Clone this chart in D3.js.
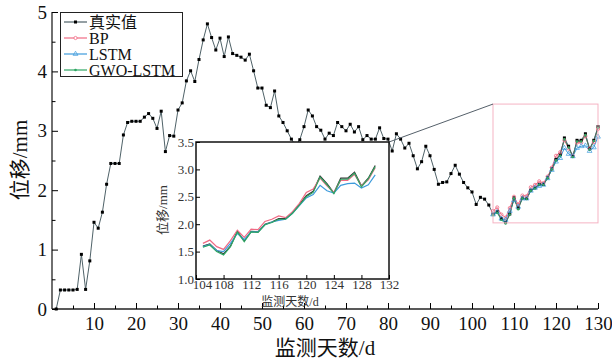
<!DOCTYPE html>
<head>
  <meta charset="utf-8">
  <script src="https://d3js.org/d3.v7.min.js"></script>
  <style>
    body { margin:0; background:#fff; }
    text { font-family: "Liberation Serif", "Noto Sans CJK SC", serif; }
  </style>
</head>

<body>
  <svg id="chart" width=612 height=360></svg>
  <script>
    // truth values, day 1 .. 130
    const truth = [0, 0.32, 0.32, 0.32, 0.32, 0.33, 0.92, 0.33, 0.81, 1.46,
      1.36, 1.63, 2.10, 2.45, 2.45, 2.45, 2.93, 3.14, 3.16, 3.16,
      3.16, 3.23, 3.29, 3.21, 3.04, 3.33, 2.65, 2.92, 2.91, 3.35,
      3.47, 3.84, 4.01, 3.83, 4.20, 4.53, 4.80, 4.57, 4.36, 4.56,
      4.25, 4.58, 4.30, 4.27, 4.24, 4.19, 4.29, 4.01, 3.72, 3.72,
      3.43, 3.39, 3.67, 3.25, 3.14, 3.00, 2.86, 2.75, 2.85, 3.07,
      3.35, 3.25, 3.07, 3.01, 2.86, 2.96, 2.92, 3.14, 3.07, 3.00,
      3.11, 2.98, 3.07, 2.85, 2.92, 2.86, 2.86, 3.05, 2.87, 2.86,
      2.66, 2.95, 2.86, 2.71, 2.79, 2.58, 2.36, 2.48, 2.74, 2.58,
      2.35, 2.10, 2.13, 2.14, 2.28, 2.42, 2.27, 2.13, 2.04, 1.97,
      1.76, 1.88, 1.85, 1.75, 1.60, 1.64, 1.52, 1.46, 1.60, 1.87,
      1.70, 1.87, 1.86, 2.00, 2.04, 2.10, 2.10, 2.21, 2.36, 2.52,
      2.60, 2.88, 2.74, 2.57, 2.84, 2.84, 2.95, 2.70, 2.84, 3.07];
    // predictions, day 105 .. 130
    const predStart = 105;
    const bp = [1.65, 1.71, 1.59, 1.54, 1.70, 1.89, 1.76, 1.91, 1.90, 2.05,
      2.09, 2.15, 2.12, 2.23, 2.38, 2.58, 2.64, 2.84, 2.70, 2.58,
      2.80, 2.80, 2.91, 2.70, 2.81, 3.03];
    const lstm = [1.59, 1.63, 1.52, 1.50, 1.65, 1.83, 1.72, 1.86, 1.86, 1.99,
      2.04, 2.07, 2.09, 2.20, 2.34, 2.48, 2.54, 2.71, 2.61, 2.57,
      2.71, 2.74, 2.75, 2.66, 2.72, 2.90];
    const gwo = [1.58, 1.62, 1.50, 1.44, 1.59, 1.86, 1.68, 1.86, 1.85, 1.99,
      2.03, 2.09, 2.09, 2.20, 2.35, 2.50, 2.58, 2.86, 2.72, 2.56,
      2.82, 2.82, 2.93, 2.68, 2.83, 3.05];
    const names = ["真实值", "BP", "LSTM", "GWO-LSTM"];
    const colors = ["#000000", "#f06a84", "#3d9bdc", "#2ea763"];
    const xTicks = [10, 20, 30, 40, 50, 60, 70, 80, 90, 100, 110, 120, 130];
    const yTicks = [0, 1, 2, 3, 4, 5];
    const insetXTicks = [104, 108, 112, 116, 120, 124, 128, 132];
    const insetYTicks = [1.0, 1.5, 2.0, 2.5, 3.0, 3.5];
    const zoomBox = {x0: 105, x1: 130, y0: 1.45, y1: 3.45};

    const svg = d3.select("#chart");
    const x = d3.scaleLinear().domain([0, 130]).range([52, 598]);
    const y = d3.scaleLinear().domain([0, 5]).range([309, 12]);

    const truthPts = truth.map((v, i) => [i + 1, v]);
    const toPts = arr => arr.map((v, i) => [predStart + i, v]);
    const series = [truthPts, toPts(bp), toPts(lstm), toPts(gwo)];

    // main axes, ticks inward
    const xAxis = d3.axisBottom(x).tickValues(d3.range(5, 131, 5)).tickSize(-3.5)
      .tickFormat(d => xTicks.includes(d) ? d : "");
    const gx = svg.append("g").attr("transform", "translate(0,309)").call(xAxis);
    gx.selectAll(".tick line").filter(d => d % 10 === 0).attr("y2", -6);
    gx.selectAll("text").attr("font-size", 19).attr("fill", "#111").attr("dy", "0.95em");
    gx.select(".domain").attr("d", "M52,0H598").attr("stroke", "#222").attr("stroke-width", 1.3);

    const yAxis = d3.axisLeft(y).tickValues(d3.range(0, 5.01, 0.5)).tickSize(-3.5)
      .tickFormat(d => yTicks.includes(d) ? d : "");
    const gy = svg.append("g").attr("transform", "translate(52,0)").call(yAxis);
    gy.selectAll(".tick line").filter(d => d % 1 === 0).attr("x2", 6);
    gy.selectAll("text").attr("font-size", 19).attr("fill", "#111").attr("x", -5);
    gy.select(".domain").attr("d", "M0,309V12").attr("stroke", "#222").attr("stroke-width", 1.3);

    svg.append("text").attr("x", 325).attr("y", 355).attr("text-anchor", "middle")
      .attr("font-size", 21).attr("fill", "#111").text("监测天数/d");
    svg.append("text").attr("transform", "translate(27,160) rotate(-90)")
      .attr("text-anchor", "middle").attr("font-size", 21).attr("fill", "#111").text("位移/mm");

    const line = d3.line().x(d => x(d[0])).y(d => y(d[1]));

    // main series
    [1, 2, 3].forEach(k => {
      svg.append("path").datum(series[k]).attr("fill", "none")
        .attr("stroke", colors[k]).attr("stroke-width", 1).attr("d", line);
    });
    svg.append("path").datum(truthPts).attr("fill", "none")
      .attr("stroke", "#4f6268").attr("stroke-width", 1).attr("d", line);
    svg.selectAll("rect.pt").data(truthPts).enter().append("rect").attr("class", "pt")
      .attr("x", d => x(d[0]) - 1.5).attr("y", d => y(d[1]) - 1.5)
      .attr("width", 3).attr("height", 3).attr("fill", "#000");
    svg.selectAll("circle.bp").data(series[1]).enter().append("circle").attr("class", "bp")
      .attr("cx", d => x(d[0])).attr("cy", d => y(d[1])).attr("r", 1.6)
      .attr("fill", "none").attr("stroke", colors[1]).attr("stroke-width", 0.8);
    svg.selectAll("path.ls").data(series[2]).enter().append("path").attr("class", "ls")
      .attr("d", d3.symbol(d3.symbolTriangle, 10))
      .attr("transform", d => `translate(${x(d[0])},${y(d[1])})`)
      .attr("fill", "none").attr("stroke", colors[2]).attr("stroke-width", 0.7);
    svg.selectAll("circle.gw").data(series[3]).enter().append("circle").attr("class", "gw")
      .attr("cx", d => x(d[0])).attr("cy", d => y(d[1])).attr("r", 1.2).attr("fill", colors[3]);

    // zoom box and connector
    svg.append("rect").attr("x", x(zoomBox.x0)).attr("y", y(zoomBox.y1))
      .attr("width", x(zoomBox.x1) - x(zoomBox.x0)).attr("height", y(zoomBox.y0) - y(zoomBox.y1))
      .attr("fill", "none").attr("stroke", "#f5b3c3").attr("stroke-width", 1);

    // inset
    const ix = d3.scaleLinear().domain([104, 132]).range([196, 389]);
    const iy = d3.scaleLinear().domain([1.0, 3.5]).range([279, 142]);
    svg.append("line").attr("x1", x(zoomBox.x0)).attr("y1", y(zoomBox.y1))
      .attr("x2", ix(132)).attr("y2", iy(3.5)).attr("stroke", "#55606a").attr("stroke-width", 1);
    svg.append("rect").attr("x", 196).attr("y", 142).attr("width", 193).attr("height", 137)
      .attr("fill", "#fff").attr("stroke", "#111").attr("stroke-width", 1.5);

    const ixAxis = d3.axisBottom(ix).tickValues(insetXTicks).tickSize(-4).tickFormat(d3.format("d"));
    const gix = svg.append("g").attr("transform", "translate(0,279)").call(ixAxis);
    gix.select(".domain").remove();
    gix.selectAll("text").attr("font-size", 13).attr("fill", "#333").attr("y", 1).attr("dy", "0.7em")
      .filter(d => d === 104).attr("dx", 6);
    const iyAxis = d3.axisLeft(iy).tickValues(insetYTicks).tickSize(-4).tickFormat(d3.format(".1f"));
    const giy = svg.append("g").attr("transform", "translate(196,0)").call(iyAxis);
    giy.select(".domain").remove();
    giy.selectAll("text").attr("font-size", 13).attr("fill", "#333").attr("x", -2);

    svg.append("text").attr("x", 290).attr("y", 306).attr("text-anchor", "middle")
      .attr("font-size", 12).attr("fill", "#333").text("监测天数/d");
    svg.append("text").attr("transform", "translate(167,210) rotate(-90)")
      .attr("text-anchor", "middle").attr("font-size", 13).attr("fill", "#333").text("位移/mm");

    const iline = d3.line().x(d => ix(d[0])).y(d => iy(d[1]));
    [0, 1, 2, 3].forEach(k => {
      svg.append("path").datum(series[k].filter(d => d[0] >= predStart)).attr("fill", "none")
        .attr("stroke", k === 0 ? "#333" : colors[k]).attr("stroke-width", 1.2).attr("d", iline);
    });

    // legend
    const lg = svg.append("g");
    lg.append("rect").attr("x", 60.5).attr("y", 12.5).attr("width", 122).attr("height", 64)
      .attr("fill", "#fff").attr("stroke", "#222").attr("stroke-width", 1);
    const row = lg.selectAll("g").data(names).enter().append("g")
      .attr("transform", (d, i) => `translate(64,${22 + i * 16})`);
    row.append("line").attr("x1", 0).attr("x2", 23)
      .attr("stroke", (d, i) => i === 0 ? "#4f6268" : colors[i]).attr("stroke-width", 1.2);
    row.filter((d, i) => i === 0).append("rect").attr("x", 10).attr("y", -1.5)
      .attr("width", 3).attr("height", 3).attr("fill", "#000");
    row.filter((d, i) => i === 1).append("circle").attr("cx", 11.5).attr("r", 1.6)
      .attr("fill", "#fff").attr("stroke", colors[1]).attr("stroke-width", 0.8);
    row.filter((d, i) => i === 2).append("path").attr("d", d3.symbol(d3.symbolTriangle, 10))
      .attr("transform", "translate(11.5,0)").attr("fill", "none").attr("stroke", colors[2]).attr("stroke-width", 0.7);
    row.filter((d, i) => i === 3).append("circle").attr("cx", 11.5).attr("r", 1.3).attr("fill", colors[3]);
    row.append("text").attr("x", 25).attr("y", 5.5).attr("font-size", 16).attr("fill", "#111").text(d => d);
  </script>
</body>
